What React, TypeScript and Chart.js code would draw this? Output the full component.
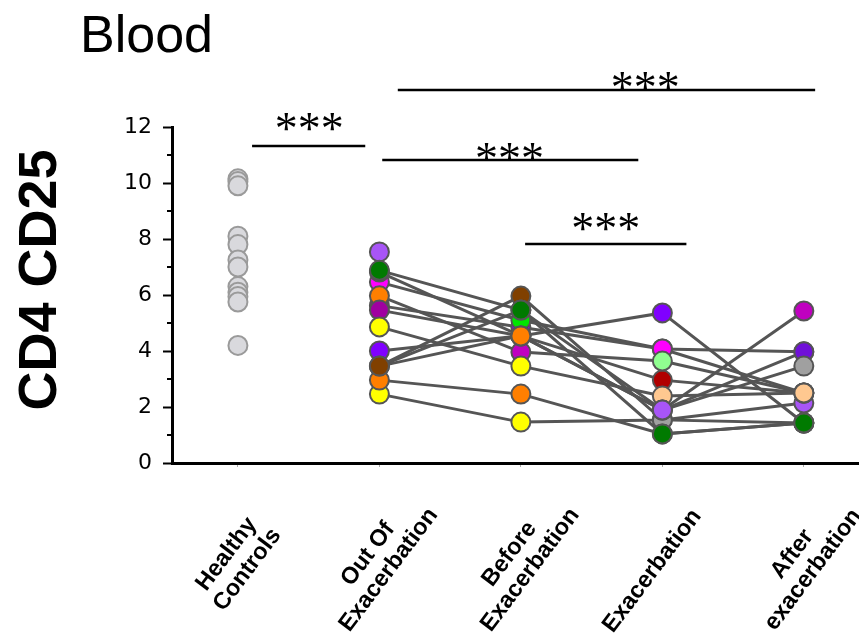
import React, { useEffect, useRef } from 'react';
import { Chart, registerables } from 'chart.js';

Chart.register(...registerables);

// ---------- data ----------
const categories: string[][] = [
  ['Healthy', 'Controls'],
  ['Out Of', 'Exacerbation'],
  ['Before', 'Exacerbation'],
  ['Exacerbation'],
  ['After', 'exacerbation'],
];

const yTickValues = [0, 2, 4, 6, 8, 10, 12];

const healthyControls = [10.15, 10.05, 9.9, 8.1, 7.8, 7.25, 7.0, 6.3, 6.1, 5.95, 5.75, 4.2];

// each row: one patient, values at [Out Of, Before, Exacerbation, After]
const patientValues: (number | null)[][] = [
  [7.54, null, null, null],
  [3.46, 5.96, 1.54, 1.43],
  [2.46, 1.46, 1.54, 2.14],
  [5.62, 4.85, 4.07, 2.5],
  [6.46, 5.1, 4.07, 3.97],
  [6.82, 4.54, 2.96, 2.5],
  [5.97, 3.96, 3.64, 2.5],
  [5.46, 4.54, 5.36, 1.43],
  [4.86, 3.46, 2.39, 2.5],
  [6.88, 5.46, 1.04, 1.43],
  [2.96, 2.46, 1.04, 1.43],
  [4.0, 4.54, 1.89, 5.43],
  [3.46, 5.46, 1.89, 3.97],
  [3.46, 4.54, 1.89, 3.46],
];

const patientColors: string[][] = [
  ['#a855f7', '', '', ''],
  ['#804000', '#804000', '#a0a0a0', '#007a00'],
  ['#ffff00', '#ffff00', '#a0a0a0', '#a855f7'],
  ['#a000a0', '#8000ff', '#ff00ff', '#ffc890'],
  ['#ff00ff', '#00e600', '#ff00ff', '#7010d8'],
  ['#007a00', '#ff7f00', '#b00000', '#ffc890'],
  ['#ff7f00', '#c000c0', '#90ff90', '#ffc890'],
  ['#a000a0', '#ff7f00', '#8000ff', '#007a00'],
  ['#ffff00', '#ffff00', '#ffc890', '#ffc890'],
  ['#007a00', '#007a00', '#007a00', '#007a00'],
  ['#ff7f00', '#ff7f00', '#007a00', '#007a00'],
  ['#8000ff', '#ff7f00', '#a855f7', '#c000c0'],
  ['#804000', '#007a00', '#a855f7', '#7010d8'],
  ['#804000', '#ff7f00', '#a855f7', '#a0a0a0'],
];

// significance brackets (x in category index units, y in data units)
const sigFrom = [0.1, 1.02, 2.03, 1.13];
const sigTo = [0.9, 2.83, 3.17, 4.08];
const sigLevel = [11.32, 10.82, 7.82, 13.32];
const sigTextAt = [0.505, 1.92, 2.6, 2.88];
const sigTextDy = [-2, 14, 0, 13];
const sigText = ['***', '***', '***', '***'];

const chartTitle = 'Blood';
const yTitle = 'CD4 CD25';

// ---------- chart ----------
const annotationPlugin = {
  id: 'annotations',
  afterDraw(chart: any) {
    const ctx = chart.ctx as CanvasRenderingContext2D;
    const xs = chart.scales.x;
    const ys = chart.scales.y;
    const area = chart.chartArea;
    ctx.save();
    ctx.fillStyle = '#000';
    ctx.strokeStyle = '#000';

    // title
    ctx.font = '52px "Liberation Sans", Arial, sans-serif';
    ctx.textAlign = 'left';
    ctx.textBaseline = 'alphabetic';
    ctx.fillText(chartTitle, 80, 52);

    // y title
    ctx.save();
    ctx.translate(41, 280);
    ctx.rotate(-Math.PI / 2);
    ctx.font = 'bold 54px "Liberation Sans", Arial, sans-serif';
    ctx.textAlign = 'center';
    ctx.textBaseline = 'middle';
    ctx.fillText(yTitle, 0, 0);
    ctx.restore();

    // minor y ticks
    ctx.lineWidth = 2;
    for (let v = 1; v < 12; v += 2) {
      const py = Math.round(ys.getPixelForValue(v));
      ctx.beginPath();
      ctx.moveTo(area.left - 5, py);
      ctx.lineTo(area.left, py);
      ctx.stroke();
    }

    // x labels
    const ang = (-53 * Math.PI) / 180;
    const lh = 26;
    categories.forEach((lines, i) => {
      const px = xs.getPixelForValue(i);
      const single = lines.length === 1;
      ctx.save();
      ctx.translate(px + (single ? -10 : -1), single ? 571 : 562);
      ctx.rotate(ang);
      ctx.font = 'bold 23.5px "Liberation Sans", Arial, sans-serif';
      ctx.textAlign = 'center';
      ctx.textBaseline = 'middle';
      lines.forEach((t, j) => {
        ctx.fillText(t, 0, (j - (lines.length - 1) / 2) * lh);
      });
      ctx.restore();
    });

    // significance brackets
    for (let k = 0; k < sigFrom.length; k++) {
      const y = Math.round(ys.getPixelForValue(sigLevel[k]));
      const x1 = xs.getPixelForValue(sigFrom[k]);
      const x2 = xs.getPixelForValue(sigTo[k]);
      ctx.lineWidth = 2.5;
      ctx.beginPath();
      ctx.moveTo(x1, y);
      ctx.lineTo(x2, y);
      ctx.stroke();
      ctx.font = '46px "Liberation Serif", "Times New Roman", serif';
      ctx.textAlign = 'center';
      ctx.textBaseline = 'alphabetic';
      ctx.fillText(sigText[k], xs.getPixelForValue(sigTextAt[k]), y + sigTextDy[k]);
    }
    ctx.restore();
  },
};

export default function App() {
  const ref = useRef<HTMLCanvasElement | null>(null);

  useEffect(() => {
    document.body.style.margin = '0';
    if (!ref.current) return;

    const lineSets = patientValues.map((vals) => ({
      type: 'line' as const,
      data: vals
        .map((v, c) => (v == null ? null : { x: c + 1, y: v }))
        .filter((p) => p !== null),
      borderColor: '#555555',
      borderWidth: 3,
      pointRadius: 0,
      pointHoverRadius: 0,
      fill: false,
      tension: 0,
      order: 3,
    }));

    const columnSets = [0, 1, 2, 3].map((c) => {
      const pts = patientValues
        .map((vals, p) => ({ v: vals[c], color: patientColors[p][c] }))
        .filter((o) => o.v != null);
      return {
        type: 'scatter' as const,
        data: pts.map((o) => ({ x: c + 1, y: o.v as number })),
        pointBackgroundColor: pts.map((o) => o.color),
        pointBorderColor: '#555555',
        pointBorderWidth: 2,
        pointRadius: 9.5,
        pointHoverRadius: 9.5,
        showLine: false,
        order: 1,
      };
    });

    const healthySet = {
      type: 'scatter' as const,
      data: [...healthyControls].sort((a, b) => b - a).map((v) => ({ x: 0, y: v })),
      pointBackgroundColor: '#d9d9dd',
      pointBorderColor: '#9a9a9a',
      pointBorderWidth: 2,
      pointRadius: 9.5,
      pointHoverRadius: 9.5,
      showLine: false,
      order: 1,
    };

    const chart = new Chart(ref.current, {
      type: 'scatter',
      data: { datasets: [healthySet, ...columnSets, ...lineSets] as any },
      options: {
        animation: false,
        responsive: false,
        maintainAspectRatio: false,
        layout: { autoPadding: false, padding: { top: 127, right: 0, left: 0, bottom: 0 } },
        plugins: {
          legend: { display: false },
          tooltip: { enabled: false },
          title: { display: false },
        },
        scales: {
          x: {
            type: 'linear',
            min: -0.466,
            max: 4.39,
            afterFit: (s: any) => {
              s.height = 179;
            },
            ticks: { display: false, stepSize: 1, includeBounds: false },
            grid: {
              display: true,
              drawOnChartArea: false,
              drawTicks: true,
              tickLength: 4,
              tickColor: '#aaaaaa',
              tickWidth: 1,
            },
            border: { display: true, color: '#000', width: 3 },
          },
          y: {
            type: 'linear',
            min: 0,
            max: 12,
            afterFit: (s: any) => {
              s.width = 172;
            },
            afterBuildTicks: (s: any) => {
              s.ticks = yTickValues.map((v) => ({ value: v }));
            },
            ticks: {
              padding: 11,
              color: '#000',
              font: { family: '"DejaVu Sans", Verdana, sans-serif', size: 22 },
            },
            grid: {
              drawOnChartArea: false,
              tickLength: 9,
              tickColor: '#000',
              tickWidth: 2,
            },
            border: { color: '#000', width: 3 },
          },
        },
      } as any,
      plugins: [annotationPlugin],
    });

    return () => chart.destroy();
  }, []);

  return <canvas ref={ref} width={859} height={642} style={{ display: 'block' }} />;
}
